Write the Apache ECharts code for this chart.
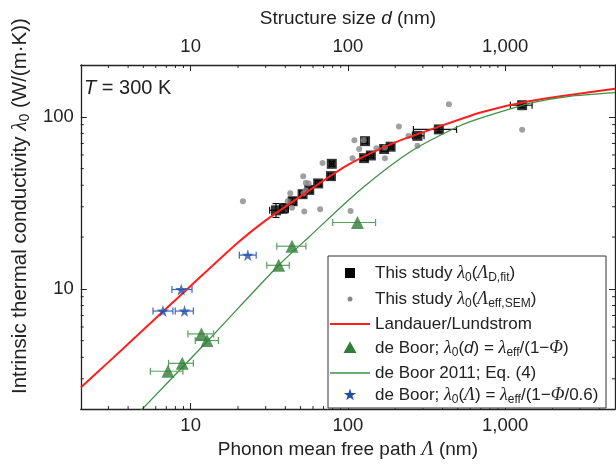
<!DOCTYPE html>
<html><head><meta charset="utf-8">
<script src="https://cdn.jsdelivr.net/npm/echarts/dist/echarts.min.js"></script>
<style>html,body{margin:0;padding:0;background:#fff}#c{width:616px;height:465px}</style>
</head><body><div id="c"></div>
<script>
// ---- axis ranges and ticks ----
const X_MIN = 2, X_MAX = 5000, Y_MIN = 2, Y_MAX = 200;
const xMinorTicks = [3,4,5,6,7,8,9,20,30,40,50,60,70,80,90,200,300,400,500,600,700,800,900,2000,3000,4000];
const yMinorTicks = [3,4,5,6,7,8,9,20,30,40,50,60,70,80,90];

// ---- This study λ0(Λ_D,fit) ----
const fitX   = [34.9,39.2,44.5,51.5,56.8,64.7,78,79,128.6,126.8,140,170,187,277,379,1283];
const fitY   = [28.6,29.4,32.3,35.5,37.6,41.0,45.2,53.3,72.2,57.5,59.6,65.0,67.0,77.5,84.5,116.8];
const fitXLo = [31.8,36.8,42.3,49.3,54.6,62.2,75,76.5,124,121,134,163,180,257,261,1081];
const fitXHi = [38.2,41.8,46.8,53.8,59.1,67.3,81,81.5,133,133,146,177,194,305,491,1485];
const fitYLo = [26.0,27.6,30.8,34.0,36.2,39.5,43.6,51.5,70,55.7,57.8,63.0,65.0,75.5,81.5,113];
const fitYHi = [31.3,31.2,33.8,37.0,39.0,42.5,46.8,55.1,74.5,59.3,61.4,67.0,69.0,79.5,87.5,120.5];

// ---- This study λ0(Λ_eff,SEM) ----
const semX = [439,211,243,277,172,172,152,110,126,118,107,69,52,54,56.3,43,52.3,54,41.4,44.1,52.8,66.6,104,1283,21.5];
const semY = [118.3,87.9,77.4,67.9,57.5,66.4,65.6,73.1,73.1,65.0,57.5,53.8,45.2,41.4,40.9,35.9,35.9,37.4,32.3,29.6,28.2,29.0,28.3,84.1,32.3];

// ---- Landauer/Lundstrom ----
const landX = [2,3,5,10,20,30,50,100,200,336,698,1449,5000];
const landY = [2.67,3.75,5.78,10.4,18.6,25.0,34.5,52.5,71,84.2,106,123.5,145.4];

// ---- de Boor; λ0(d) ----
const triX   = [44.1,36.3,11.7,12.7,8.84,7.17,115];
const triY   = [17.7,13.7,5.47,5.01,3.69,3.32,24.3];
const triXLo = [35.3,30.5,9.6,10.7,7.23,5.54,80];
const triXHi = [54.1,42.4,14.0,15.0,10.4,8.93,150];

// ---- de Boor 2011; Eq. (4) ----
const eqX = [4.5,4.92,12.9,36.3,56.8,121,251,496,698,1449,2500,5000];
const eqY = [1.83,2.0,5.01,13.7,20.1,37.9,62.8,87.2,98.1,120,131,138];

// ---- de Boor; λ0(Λ) ----
const starX   = [23.1,8.71,6.66,9.14];
const starY   = [15.7,9.91,7.43,7.43];
const starXLo = [20.4,7.60,5.76,7.98];
const starXHi = [26.1,10.2,7.71,10.4];

const STAR = 'path://M50 0 L61.23 34.55 L97.55 34.55 L68.17 55.9 L79.39 90.45 L50 69.1 L20.61 90.45 L31.83 55.9 L2.45 34.55 L38.77 34.55 Z';
const FONT = 'Liberation Sans, Arial, sans-serif';
const GREEK = 'Liberation Serif, DejaVu Serif, serif';
const AX = '#222';

function richSet(fs) {
  return {
    i: {fontFamily: GREEK, fontStyle: 'italic', fontSize: fs + 1, lineHeight: 22, color: AX},
    it: {fontFamily: FONT, fontStyle: 'italic', fontSize: fs, lineHeight: 22, color: AX},
    s: {fontFamily: FONT, fontSize: Math.round(fs * 0.68), lineHeight: 12, padding: [10, 0, 0, 0], color: AX},
    n: {fontFamily: FONT, fontSize: fs, lineHeight: 22, color: AX}
  };
}

function errSeries(name, xs, ys, xlo, xhi, ylo, yhi, color, z) {
  return {
    type: 'custom', name: name, silent: true, z: z, clip: true,
    xAxisIndex: 0, yAxisIndex: 0,
    data: xs.map((x, i) => [x, ys[i], xlo[i], xhi[i], ylo ? ylo[i] : ys[i], yhi ? yhi[i] : ys[i]]),
    encode: {x: 0, y: 1},
    renderItem: function (p, api) {
      const x = api.value(0), y = api.value(1);
      const a = api.coord([api.value(2), y]), b = api.coord([api.value(3), y]);
      const c = 3.5;
      const st = {stroke: color, lineWidth: 1.2};
      const ch = [
        {type: 'line', shape: {x1: a[0], y1: a[1], x2: b[0], y2: b[1]}, style: st},
        {type: 'line', shape: {x1: a[0], y1: a[1] - c, x2: a[0], y2: a[1] + c}, style: st},
        {type: 'line', shape: {x1: b[0], y1: b[1] - c, x2: b[0], y2: b[1] + c}, style: st}
      ];
      if (api.value(4) !== api.value(5)) {
        const d = api.coord([x, api.value(4)]), e = api.coord([x, api.value(5)]);
        ch.push({type: 'line', shape: {x1: d[0], y1: d[1], x2: e[0], y2: e[1]}, style: st});
        ch.push({type: 'line', shape: {x1: d[0] - c, y1: d[1], x2: d[0] + c, y2: d[1]}, style: st});
        ch.push({type: 'line', shape: {x1: e[0] - c, y1: e[1], x2: e[0] + c, y2: e[1]}, style: st});
      }
      return {type: 'group', children: ch};
    }
  };
}

function minorTickSeries(vals, isX) {
  return {
    type: 'custom', silent: true, z: 10, clip: false,
    xAxisIndex: 0, yAxisIndex: 0,
    data: vals.map(v => isX ? [v, Y_MIN] : [X_MIN, v]),
    encode: {x: 0, y: 1},
    renderItem: function (p, api) {
      const st = {stroke: AX, lineWidth: 1};
      const L = 3;
      if (isX) {
        const v = api.value(0);
        const b = api.coord([v, Y_MIN]), t = api.coord([v, Y_MAX]);
        return {type: 'group', children: [
          {type: 'line', shape: {x1: b[0], y1: b[1], x2: b[0], y2: b[1] - L}, style: st},
          {type: 'line', shape: {x1: t[0], y1: t[1], x2: t[0], y2: t[1] + L}, style: st}
        ]};
      } else {
        const v = api.value(1);
        const l = api.coord([X_MIN, v]), r = api.coord([X_MAX, v]);
        return {type: 'group', children: [
          {type: 'line', shape: {x1: l[0], y1: l[1], x2: l[0] + L, y2: l[1]}, style: st},
          {type: 'line', shape: {x1: r[0], y1: r[1], x2: r[0] - L, y2: r[1]}, style: st}
        ]};
      }
    }
  };
}

const numFmt = v => Math.round(v).toLocaleString('en-US');

function xAxisDef(pos, name, gap, margin) {
  return {
    type: 'log', logBase: 10, min: X_MIN, max: X_MAX, position: pos,
    axisLine: {show: true, lineStyle: {color: AX, width: 1.3}},
    axisTick: {show: true, inside: true, length: 6, lineStyle: {color: AX, width: 1}},
    axisLabel: {show: true, showMinLabel: false, showMaxLabel: false, margin: margin,
      fontSize: 18.5, fontFamily: FONT, color: AX, formatter: numFmt},
    splitLine: {show: false},
    name: name, nameLocation: 'middle', nameGap: gap,
    nameTextStyle: {fontSize: 19, fontFamily: FONT, color: AX, rich: richSet(19)}
  };
}

const option = {
  animation: false,
  backgroundColor: '#fff',
  grid: {left: 79, top: 65, right: 1, bottom: 49, containLabel: false},
  xAxis: [
    xAxisDef('bottom', 'Phonon mean free path {i|Λ} (nm)', 27, 7),
    xAxisDef('top', 'Structure size {it|d} (nm)', 35, 9)
  ],
  yAxis: [
    {
      type: 'log', logBase: 10, min: Y_MIN, max: Y_MAX, position: 'left',
      axisLine: {show: true, lineStyle: {color: AX, width: 1.3}},
      axisTick: {show: true, inside: true, length: 6, lineStyle: {color: AX, width: 1}},
      axisLabel: {show: true, showMinLabel: false, showMaxLabel: false, margin: 7,
        fontSize: 18.5, fontFamily: FONT, color: AX, formatter: numFmt},
      splitLine: {show: false},
      name: 'Intrinsic thermal conductivity {i|λ}{s|0} (W/(m·K))',
      nameLocation: 'middle', nameGap: 45,
      nameTextStyle: {fontSize: 20.5, fontFamily: FONT, color: AX, rich: richSet(20.5), padding: [0, 0, 0, 62]}
    },
    {
      type: 'log', logBase: 10, min: Y_MIN, max: Y_MAX, position: 'right',
      axisLine: {show: true, lineStyle: {color: AX, width: 1.3}},
      axisTick: {show: true, inside: true, length: 6, lineStyle: {color: AX, width: 1}},
      axisLabel: {show: false}, splitLine: {show: false}
    }
  ],
  series: [
    minorTickSeries(xMinorTicks, true),
    minorTickSeries(yMinorTicks, false),
    errSeries('fitErr', fitX, fitY, fitXLo, fitXHi, fitYLo, fitYHi, '#111', 2),
    {type: 'scatter', name: 'fit', z: 2, symbol: 'rect', symbolSize: 10,
      itemStyle: {color: '#000'}, data: fitX.map((x, i) => [x, fitY[i]])},
    {type: 'scatter', name: 'sem', z: 3, symbol: 'circle', symbolSize: 6,
      itemStyle: {color: '#888'}, data: semX.map((x, i) => [x, semY[i]])},
    {type: 'line', name: 'Landauer', z: 4, smooth: 0.25, showSymbol: false, symbol: 'none',
      lineStyle: {color: '#ff1f1f', width: 2}, data: landX.map((x, i) => [x, landY[i]])},
    {type: 'line', name: 'eq4', z: 4, smooth: 0.25, showSymbol: false, symbol: 'none',
      lineStyle: {color: '#3f8f45', width: 1.3}, data: eqX.map((x, i) => [x, eqY[i]])},
    errSeries('triErr', triX, triY, triXLo, triXHi, null, null, '#5aa060', 5),
    {type: 'scatter', name: 'tri', z: 5, symbol: 'triangle', symbolSize: 13,
      itemStyle: {color: '#2f7d37'}, data: triX.map((x, i) => [x, triY[i]])},
    errSeries('starErr', starX, starY, starXLo, starXHi, null, null, '#3a68b8', 5),
    {type: 'scatter', name: 'star', z: 5, symbol: STAR, symbolSize: 12,
      itemStyle: {color: '#1f4fa5'}, data: starX.map((x, i) => [x, starY[i]])}
  ],
  graphic: []
};

// ---- legend (drawn as graphic) ----
const LG = {left: 328, top: 256, width: 278, height: 152, iconX: 350, lineX1: 330, lineX2: 370, textX: 375};
const rowsY = [273, 299, 324, 348, 373, 395];
const legendTexts = [
  'This study {i|λ}{s|0}({i|Λ}{s|D,fit})',
  'This study {i|λ}{s|0}({i|Λ}{s|eff,SEM})',
  'Landauer/Lundstrom',
  'de Boor; {i|λ}{s|0}({it|d}) = {i|λ}{s|eff}/(1−{i|Φ})',
  'de Boor 2011; Eq. (4)',
  'de Boor; {i|λ}{s|0}({i|Λ}) = {i|λ}{s|eff}/(1−{i|Φ}/0.6)'
];
function starPts(cx, cy, R) {
  const pts = [];
  for (let k = 0; k < 10; k++) {
    const a = (-90 + k * 36) * Math.PI / 180, r = k % 2 ? R * 0.382 : R;
    pts.push([cx + r * Math.cos(a), cy + r * Math.sin(a)]);
  }
  return pts;
}
const g = option.graphic;
g.push({type: 'rect', z: 100, shape: {x: LG.left, y: LG.top, width: LG.width, height: LG.height},
  style: {fill: '#fff', stroke: '#333', lineWidth: 1}});
g.push({type: 'rect', z: 101, shape: {x: LG.iconX - 5, y: rowsY[0] - 5, width: 10, height: 10}, style: {fill: '#000'}});
g.push({type: 'circle', z: 101, shape: {cx: LG.iconX, cy: rowsY[1], r: 2.5}, style: {fill: '#888'}});
g.push({type: 'line', z: 101, shape: {x1: LG.lineX1, y1: rowsY[2], x2: LG.lineX2, y2: rowsY[2]}, style: {stroke: '#ff1f1f', lineWidth: 2}});
g.push({type: 'polygon', z: 101, shape: {points: [[LG.iconX, rowsY[3] - 6.5], [LG.iconX + 6.5, rowsY[3] + 5], [LG.iconX - 6.5, rowsY[3] + 5]]}, style: {fill: '#2f7d37'}});
g.push({type: 'line', z: 101, shape: {x1: LG.lineX1, y1: rowsY[4], x2: LG.lineX2, y2: rowsY[4]}, style: {stroke: '#3f8f45', lineWidth: 1.3}});
g.push({type: 'polygon', z: 101, shape: {points: starPts(LG.iconX, rowsY[5], 6.5)}, style: {fill: '#1f4fa5'}});
legendTexts.forEach((t, i) => {
  g.push({type: 'text', z: 101, x: LG.textX, y: rowsY[i],
    style: {text: t, font: '17px ' + FONT, fill: AX, align: 'left', verticalAlign: 'middle', rich: richSet(17)}});
});
g.push({type: 'text', z: 101, x: 84, y: 88,
  style: {text: '{it|T} = 300 K', font: '20px ' + FONT, fill: AX, align: 'left', verticalAlign: 'middle', rich: richSet(20)}});

const chart = echarts.init(document.getElementById('c'), null, {renderer: 'canvas'});
chart.setOption(option);
</script></body></html>
